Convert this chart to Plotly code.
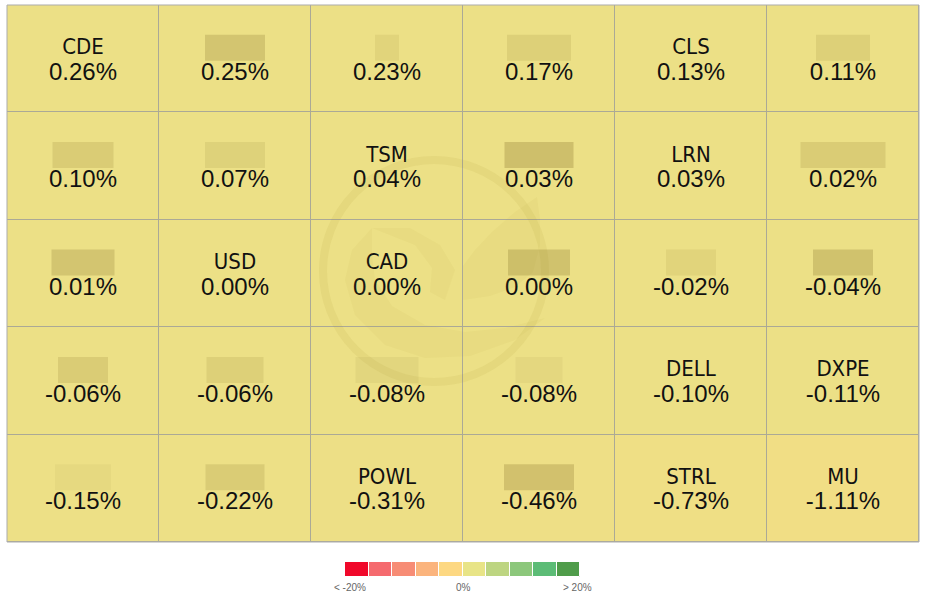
import plotly.graph_objects as go

# ---------------- data ----------------
tickers = [
    "CDE", "", "", "", "CLS", "",
    "", "", "TSM", "", "LRN", "",
    "", "USD", "CAD", "", "", "",
    "", "", "", "", "DELL", "DXPE",
    "", "", "POWL", "", "STRL", "MU",
]
changes = [
    0.26, 0.25, 0.23, 0.17, 0.13, 0.11,
    0.10, 0.07, 0.04, 0.03, 0.03, 0.02,
    0.01, 0.00, 0.00, 0.00, -0.02, -0.04,
    -0.06, -0.06, -0.08, -0.08, -0.10, -0.11,
    -0.15, -0.22, -0.31, -0.46, -0.73, -1.11,
]
legend_colors = ["#F0082A", "#F56A6E", "#F78C75", "#FBB47D", "#FDD882",
                 "#E8E487", "#BDD581", "#8CC77B", "#5CBC76", "#4F9C4A"]
legend_labels = ["< -20%", "0%", "> 20%"]

NCOLS, NROWS = 6, 5

# masked (blurred) label widths in px and their strength (style only)
mask_w = [
    0, 60, 24, 64, 0, 54,
    61, 60, 0, 69, 0, 85,
    63, 0, 0, 62, 50, 60,
    50, 57, 63, 47, 0, 0,
    56, 59, 0, 70, 0, 0,
]
mask_a = [
    0, .4, .18, .25, 0, .25,
    .3, .22, 0, .5, 0, .3,
    .4, 0, 0, .45, .18, .45,
    .3, .25, .15, .12, 0, 0,
    .1, .3, 0, .45, 0, 0,
]

cols = [i % NCOLS for i in range(len(changes))]
rows = [i // NCOLS for i in range(len(changes))]

z = [[changes[r * NCOLS + c] for c in range(NCOLS)] for r in range(NROWS)]

colorscale = [
    [0.0, "#F0082A"], [0.125, "#F56A6E"], [0.25, "#F78C75"], [0.35, "#FBB47D"],
    [0.40, "#FDD882"], [0.5, "#ECE086"], [0.60, "#E8E487"], [0.65, "#BDD581"],
    [0.75, "#8CC77B"], [0.875, "#5CBC76"], [1.0, "#4F9C4A"],
]

W, H = 929, 594
ML, MR, MT, MB = 7, 10, 5, 0
pw, ph = W - ML - MR, H - MT - MB
grid_bottom_px = 542
main_y0 = (H - grid_bottom_px) / ph
cell_w = pw / NCOLS
cell_h = (grid_bottom_px - MT) / NROWS


def dx(px):
    return (px - ML) / cell_w - 0.5


def dy(py):
    return (py - MT) / cell_h - 0.5


fig = go.Figure()

fig.add_trace(go.Heatmap(
    z=z, x=list(range(NCOLS)), y=list(range(NROWS)),
    colorscale=colorscale, zmin=-20, zmax=20, showscale=False,
    xgap=1, ygap=1, hoverinfo="skip",
))

# ticker text
fig.add_trace(go.Scatter(
    x=cols, y=[r - 10 / cell_h for r in rows], mode="text",
    text=tickers, textposition="middle center",
    textfont=dict(family="DejaVu Sans Condensed, Liberation Sans Narrow, Arial Narrow, Liberation Sans",
                  size=22, color="#111111"),
    hoverinfo="skip", showlegend=False,
))
# percentage text
fig.add_trace(go.Scatter(
    x=cols, y=[r + 15 / cell_h for r in rows], mode="text",
    text=[f"{v:.2f}%" for v in changes], textposition="middle center",
    textfont=dict(family="Liberation Sans, Arial", size=24, color="#111111"),
    hoverinfo="skip", showlegend=False,
))

# legend bars
fig.add_trace(go.Bar(
    x=list(range(len(legend_colors))), y=[1] * len(legend_colors),
    marker=dict(color=legend_colors, line=dict(color="white", width=1)),
    width=1, xaxis="x2", yaxis="y2", hoverinfo="skip", showlegend=False,
))

shapes = []
# masks for obscured labels
for i, w in enumerate(mask_w):
    if w <= 0:
        continue
    cx, cy = cols[i], rows[i] - 11 / cell_h
    hw, hh = w / 2 / cell_w, 13 / cell_h
    shapes.append(dict(type="rect", xref="x", yref="y",
                       x0=cx - hw, x1=cx + hw, y0=cy - hh, y1=cy + hh,
                       fillcolor=f"rgba(175,158,80,{mask_a[i]})", line=dict(width=0),
                       layer="above"))

# faint watermark logo
wcx, wcy, wr = 434, 271, 111
shapes.append(dict(type="circle", xref="x", yref="y",
                   x0=dx(wcx - wr), x1=dx(wcx + wr), y0=dy(wcy - wr), y1=dy(wcy + wr),
                   line=dict(color="rgba(165,145,50,0.10)", width=8), layer="above"))


def path(points, close=True):
    s = "M " + " L ".join(f"{dx(px)},{dy(py)}" for px, py in points)
    return s + (" Z" if close else "")


wm_fill = "rgba(165,145,50,0.06)"
sail = [(537, 197), (515, 212), (492, 232), (475, 250), (463, 266), (463, 300),
        (490, 296), (515, 287), (533, 272), (540, 245), (540, 220)]
shapes.append(dict(type="path", xref="x", yref="y", path=path(sail),
                   fillcolor=wm_fill, line=dict(width=0), layer="above"))
swoosh = [(372, 228), (352, 250), (345, 280), (355, 315), (385, 345), (425, 358),
          (470, 356), (515, 340), (545, 318), (505, 328), (465, 332), (425, 325),
          (392, 306), (375, 280), (372, 255)]
shapes.append(dict(type="path", xref="x", yref="y", path=path(swoosh),
                   fillcolor=wm_fill, line=dict(width=0), layer="above"))
swoosh2 = [(372, 228), (410, 228), (440, 245), (455, 270), (445, 300), (430, 292),
           (432, 268), (415, 245)]
shapes.append(dict(type="path", xref="x", yref="y", path=path(swoosh2),
                   fillcolor=wm_fill, line=dict(width=0), layer="above"))

# outer border
shapes.append(dict(type="rect", xref="x domain", yref="y domain", x0=0, x1=1, y0=0, y1=1,
                   line=dict(color="#ABABAB", width=1)))

lx0 = (345 - ML) / pw
lx1 = (580 - ML) / pw
ly0 = (H - 577) / ph
ly1 = (H - 562) / ph

annotations = []
for lab, px in zip(legend_labels, [350, 463, 577]):
    annotations.append(dict(text=lab, x=(px - ML) / pw, y=(H - 587) / ph,
                            xref="paper", yref="paper", showarrow=False,
                            xanchor="center", yanchor="middle",
                            font=dict(size=10, color="#666666", family="Liberation Sans, Arial")))

axis_off = dict(showgrid=False, zeroline=False, showticklabels=False, ticks="", fixedrange=True)
fig.update_layout(
    width=W, height=H,
    margin=dict(l=ML, r=MR, t=MT, b=MB),
    paper_bgcolor="white", plot_bgcolor="#ABA996",
    xaxis=dict(domain=[0, 1], range=[-0.5, NCOLS - 0.5], **axis_off),
    yaxis=dict(domain=[main_y0, 1], range=[NROWS - 0.5, -0.5], **axis_off),
    xaxis2=dict(domain=[lx0, lx1], range=[-0.5, len(legend_colors) - 0.5], anchor="y2", **axis_off),
    yaxis2=dict(domain=[ly0, ly1], range=[0, 1], anchor="x2", **axis_off),
    bargap=0, shapes=shapes, annotations=annotations, showlegend=False,
)

fig.write_html("out.html")
